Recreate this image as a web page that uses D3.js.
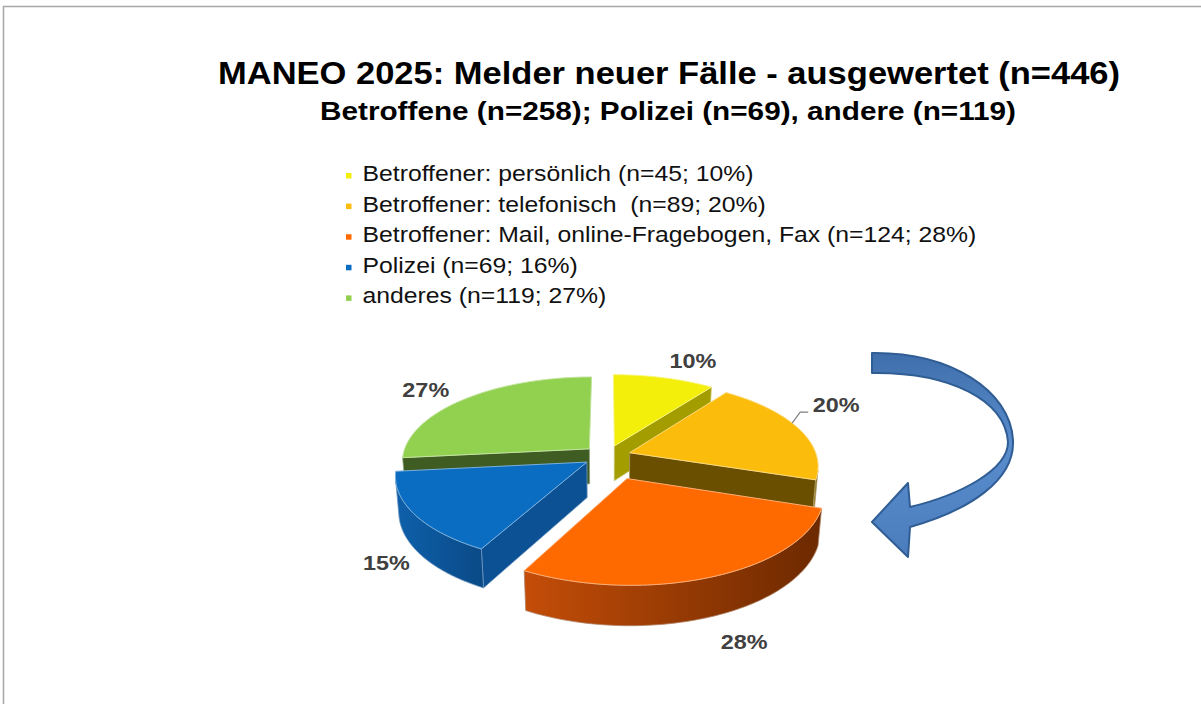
<!DOCTYPE html>
<html lang="de">
<head>
<meta charset="UTF-8">
<title>MANEO 2025: Melder neuer Fälle</title>
<script src="https://cdn.jsdelivr.net/npm/d3@7"></script>
<style>
    html, body { margin: 0; padding: 0; background: #fff; }
    svg { display: block; font-family: "Liberation Sans", Arial, sans-serif; }
</style>
</head>
<body>
<div id="chart"></div>
<script>
    // ---- data ----
    const categories = ["Betroffener: persönlich", "Betroffener: telefonisch ", "Betroffener: Mail, online-Fragebogen, Fax", "Polizei", "anderes"];
    const counts = [45, 89, 124, 69, 119];
    const legendShares = ["10%", "20%", "28%", "16%", "27%"];
    const sliceLabels = ["10%", "20%", "28%", "15%", "27%"];
    const titleText = "MANEO 2025: Melder neuer Fälle - ausgewertet (n=446)";
    const subtitleText = "Betroffene (n=258); Polizei (n=69), andere (n=119)";

    // ---- styles ----
    const topColors = ["#f3ee0a", "#fbbc0b", "#ff6a00", "#0b6dc2", "#92d050"];
    const cutColors = ["#a39d00", "#6a4f00", "#7a3000", "#0b5194", "#3f5d22"];
    const wallColors = [["#c2bb00", "#8f8a00"], ["#c08a00", "#6a4f00"], ["#c44d08", "#6c2900"], ["#0e60ab", "#0a4a86"], ["#6a9a38", "#3f5d22"]];
    const explode = [24, 24, 52, 24, 24];
    const labelShift = [4, -8.5, 3.4, -13.2, -3];          // degrees away from slice middle
    const labelDist = [1.455, 1.497, 1.765, 1.465, 1.405];  // in pie radii

    const width = 1201, height = 704;
    const cx = 607, cy = 456, R = 187, depth = 40, D = 1160;
    const sinT = 0.45, cosT = Math.sqrt(1 - sinT * sinT);

    const svg = d3.select("#chart").append("svg")
        .attr("width", width)
        .attr("height", height);

    svg.append("rect").attr("width", width).attr("height", height).attr("fill", "#fff");

    // frame of the slide
    svg.append("path")
        .attr("d", `M3.5,${height} L3.5,6.5 L${width},6.5`)
        .attr("fill", "none")
        .attr("stroke", "#a8a8a8")
        .attr("stroke-width", 1.5);

    function stretch(sel, k) {
        sel.each(function () {
            const w = this.getComputedTextLength();
            d3.select(this).attr("textLength", w * k).attr("lengthAdjust", "spacingAndGlyphs");
        });
    }

    // titles
    svg.append("text")
        .attr("x", 669).attr("y", 83.5)
        .attr("text-anchor", "middle")
        .attr("font-size", 30.5).attr("font-weight", "bold")
        .attr("fill", "#000")
        .text(titleText)
        .attr("textLength", 902).attr("lengthAdjust", "spacingAndGlyphs");

    svg.append("text")
        .attr("x", 668).attr("y", 119.5)
        .attr("text-anchor", "middle")
        .attr("font-size", 26.5).attr("font-weight", "bold")
        .attr("fill", "#000")
        .text(subtitleText)
        .attr("textLength", 696).attr("lengthAdjust", "spacingAndGlyphs");

    // legend
    const legend = svg.append("g").attr("class", "legend");
    const rows = legend.selectAll("g")
        .data(categories)
        .enter().append("g")
        .attr("transform", (d, i) => `translate(0, ${181 + i * 30.6})`);

    rows.append("rect")
        .attr("x", 346).attr("y", -8)
        .attr("width", 5.5).attr("height", 5.5)
        .attr("fill", (d, i) => topColors[i]);

    rows.append("text")
        .attr("x", 362.5).attr("y", 0)
        .attr("font-size", 22)
        .attr("fill", "#111")
        .style("white-space", "pre")
        .text((d, i) => `${d} (n=${counts[i]}; ${legendShares[i]})`)
        .call(stretch, 1.125);

    // ---- 3D pie ----
    function proj(p) {
        const [x, y, z] = p;
        const zv = z * cosT - y * sinT;
        const yv = z * sinT + y * cosT;
        const s = D / (D + zv);
        return [cx + x * s, cy - yv * s];
    }
    const depthOf = pts => d3.mean(pts, p => p[2] * cosT - p[1] * sinT);

    const pie = d3.pie().sort(null).value(d => d);
    const arcs = pie(counts);

    const defs = svg.append("defs");
    wallColors.forEach((c, i) => {
        const g = defs.append("linearGradient").attr("id", "wall" + i)
            .attr("x1", 0).attr("x2", 1).attr("y1", 0).attr("y2", 0);
        g.append("stop").attr("offset", "0%").attr("stop-color", c[0]);
        g.append("stop").attr("offset", "100%").attr("stop-color", c[1]);
    });

    const faces = [];
    const eyeZ = D * cosT;
    arcs.forEach((a, i) => {
        const m = (a.startAngle + a.endAngle) / 2;
        const ax = explode[i] * Math.sin(m), az = explode[i] * Math.cos(m);
        const rim = (t, y) => [ax + R * Math.sin(t), y, az + R * Math.cos(t)];
        const apex = y => [ax, y, az];
        const n = 80;
        const ts = d3.range(n + 1).map(k => a.startAngle + (a.endAngle - a.startAngle) * k / n);

        faces.push({ kind: "top", i, pts: [apex(0), ...ts.map(t => rim(t, 0))] });

        const vis = ts.filter(t => -ax * Math.sin(t) - az * Math.cos(t) - R - eyeZ * Math.cos(t) > 0);
        if (vis.length > 1) {
            faces.push({
                kind: "wall", i,
                pts: [...vis.map(t => rim(t, 0)), ...vis.slice().reverse().map(t => rim(t, -depth))]
            });
        }

        // radial cut faces, skipped when seen almost edge-on
        const a0 = a.startAngle, a1 = a.endAngle;
        if (Math.cos(a0) * ax + Math.sin(a0) * (-eyeZ - az) > 40) {
            faces.push({ kind: "cut", i, pts: [apex(0), rim(a0, 0), rim(a0, -depth), apex(-depth)] });
        }
        if (-ax * Math.cos(a1) + Math.sin(a1) * (eyeZ + az) > 40) {
            faces.push({ kind: "cut", i, pts: [apex(0), rim(a1, 0), rim(a1, -depth), apex(-depth)] });
        }
    });

    const line = d3.line().curve(d3.curveLinearClosed);
    const sides = faces.filter(f => f.kind !== "top").sort((a, b) => depthOf(b.pts) - depthOf(a.pts));
    const tops = faces.filter(f => f.kind === "top").sort((a, b) => depthOf(b.pts) - depthOf(a.pts));

    const pieG = svg.append("g").attr("class", "pie");
    pieG.selectAll("path.side")
        .data(sides)
        .enter().append("path")
        .attr("class", "side")
        .attr("d", f => line(f.pts.map(proj)))
        .attr("fill", f => f.kind === "wall" ? `url(#wall${f.i})` : cutColors[f.i])
        .attr("stroke", f => d3.interpolateRgb(cutColors[f.i], "#fff")(0.4))
        .attr("stroke-width", 0.8)
        .attr("stroke-linejoin", "round");

    pieG.selectAll("path.top")
        .data(tops)
        .enter().append("path")
        .attr("class", "top")
        .attr("d", f => line(f.pts.map(proj)))
        .attr("fill", f => topColors[f.i])
        .attr("stroke", f => d3.interpolateRgb(topColors[f.i], "#fff")(0.45))
        .attr("stroke-width", 1)
        .attr("stroke-linejoin", "round");

    // slice labels
    const labelPos = arcs.map((a, i) => {
        const t = (a.startAngle + a.endAngle) / 2 + labelShift[i] * Math.PI / 180;
        const r = R * labelDist[i];
        return proj([r * Math.sin(t), 0, r * Math.cos(t)]);
    });

    // leader line for the 20% label
    {
        const i = 1, a = arcs[i];
        const m = (a.startAngle + a.endAngle) / 2;
        const t = m - 4.3 * Math.PI / 180;
        const p = proj([explode[i] * Math.sin(m) + R * Math.sin(t), 0, explode[i] * Math.cos(m) + R * Math.cos(t)]);
        const [lx, ly] = labelPos[i];
        svg.append("path")
            .attr("d", `M${p[0]},${p[1]} L${lx - 36},${ly + 7} L${lx - 28},${ly + 7}`)
            .attr("fill", "none")
            .attr("stroke", "#7f7f7f")
            .attr("stroke-width", 1.2);
    }

    svg.append("g").selectAll("text")
        .data(sliceLabels)
        .enter().append("text")
        .attr("x", (d, i) => labelPos[i][0])
        .attr("y", (d, i) => labelPos[i][1])
        .attr("dy", "0.36em")
        .attr("text-anchor", "middle")
        .attr("font-size", 20)
        .attr("font-weight", "bold")
        .attr("fill", "#404040")
        .text(d => d)
        .call(stretch, 1.17);

    // curved arrow showing the reading direction
    const ag = defs.append("linearGradient").attr("id", "arrowFill")
        .attr("x1", 0).attr("x2", 0).attr("y1", 0).attr("y2", 1);
    ag.append("stop").attr("offset", "0%").attr("stop-color", "#3f6eab");
    ag.append("stop").attr("offset", "45%").attr("stop-color", "#5a8dcd");
    ag.append("stop").attr("offset", "100%").attr("stop-color", "#4b7dbd");

    svg.append("path")
        .attr("transform", `translate(${cx},${cy})`)
        .attr("d", "M265,-103 C343,-104 403,-66 406,-16 C408,24 363,54 303,71 L301,101 L265,66 L301,27 L303,51 " +
            "C353,39 401,14 401,-14 C398,-56 343,-84 265,-83 Z")
        .attr("fill", "url(#arrowFill)")
        .attr("stroke", "#2f5d94")
        .attr("stroke-width", 2)
        .attr("stroke-linejoin", "round");
</script>
</body>
</html>
